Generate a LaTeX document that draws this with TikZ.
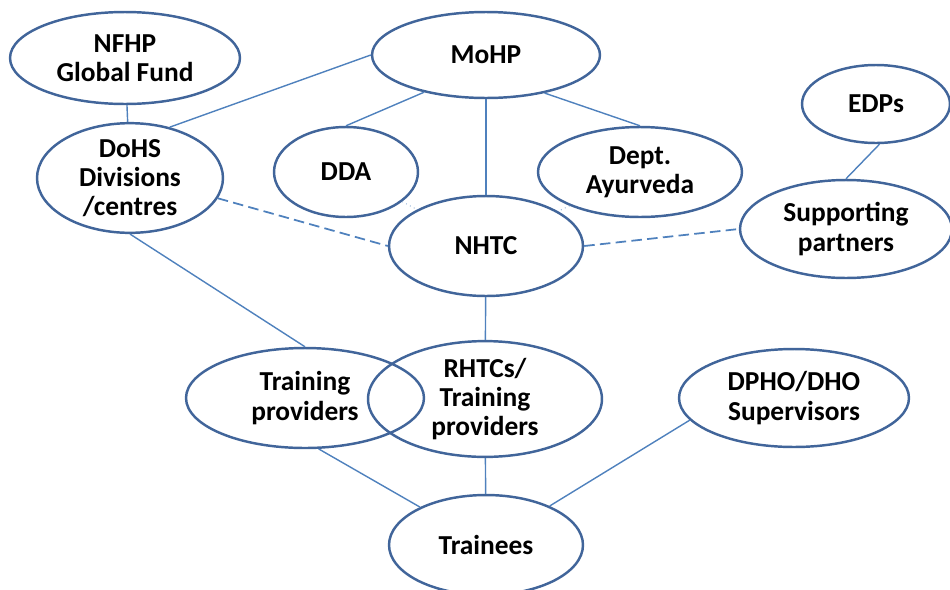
\documentclass[tikz,border=0pt]{standalone}
\usepackage{fontspec}
\setmainfont{Carlito}
\usetikzlibrary{shapes, positioning}
\definecolor{rimblue}{HTML}{41659A}
\definecolor{linkblue}{HTML}{4F81BD}
\tikzset{
        link/.style={draw=linkblue, line width=0.8pt}, % plain connector
        looselink/.style={link, line width=1pt, dash pattern=on 6pt off 3pt}, % dashed connector
        faintlink/.style={draw=linkblue!70, line width=0.5pt, dotted}, % the short dotted ones
    }
\tikzstyle{unit}=[draw=rimblue,line width=1.4pt,ellipse,inner sep=0pt,align=center]

\begin{document}
\begin{tikzpicture}[x=0.02cm,y=-0.02cm,font=\bfseries\fontsize{15.6}{16.6}\selectfont]
    \useasboundingbox (0,0) rectangle (950,589);
    % top row
    \node[unit, minimum width=4.6cm, minimum height=1.84cm] (nfhp) at (125,58) {NFHP\\Global Fund};
    \node[unit, minimum width=4.56cm, minimum height=1.72cm] (mohp) at (486,55) {MoHP};
    \node[unit, minimum width=2.96cm, minimum height=1.56cm] (edps) at (876,104) {EDPs};
    % second row
    \node[unit, minimum width=3.72cm, minimum height=2.04cm] (dohs) at (130,178) {DoHS\\Divisions\\/centres};
    \node[unit, minimum width=2.88cm, minimum height=1.8cm] (dda) at (346,172) {DDA};
    \node[unit, minimum width=4.08cm, minimum height=1.8cm] (ayur) at (640,172) {Dept.\\Ayurveda};
    \node[unit, minimum width=3.88cm, minimum height=2cm] (nhtc) at (486,246) {NHTC};
    \node[unit, minimum width=4.24cm, minimum height=1.96cm] (partners) at (846,229) {Supporting\\partners};
    % training level
    \node[unit, minimum width=4.76cm, minimum height=2cm] (trprov) at (305,398) {Training\\providers};
    \node[unit, minimum width=4.68cm, minimum height=2cm] (rhtc) at (485,399) {RHTCs/\\Training\\providers};
    \node[unit, minimum width=4.6cm, minimum height=1.96cm] (dpho) at (794,398) {DPHO/DHO\\Supervisors};
    \node[unit, minimum width=3.88cm, minimum height=2cm] (trainees) at (486,545) {Trainees};

    % connectors
    \draw[link] (nfhp) -- (dohs);
    \draw[link] (mohp.west) -- (dohs.52);
    \draw[link] (mohp.211) -- (dda.north);
    \draw[link] (mohp.327) -- (ayur.north);
    \draw[link] (mohp) -- (nhtc);
    \draw[faintlink] (dda) -- (nhtc);
    \draw[faintlink] (ayur) -- (nhtc);
    \draw[looselink] (dohs.-13) -- (nhtc.west);
    \draw[looselink] (nhtc.east) -- (partners.west);
    \draw[link] (edps.-85) -- (partners.north);
    \draw[link] (dohs.south) -- (trprov.north);
    \draw[link] (nhtc) -- (rhtc);
    \draw[link] (trprov.-75) -- (trainees);
    \draw[link] (rhtc) -- (trainees);
    \draw[link] (dpho.192) -- (trainees);
\end{tikzpicture}
\end{document}
